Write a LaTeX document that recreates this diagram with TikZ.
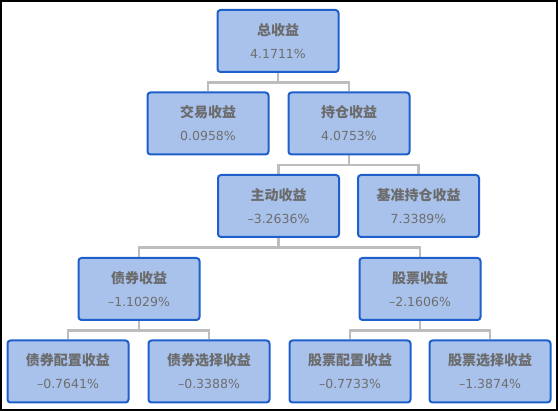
\documentclass[tikz,border=0pt]{standalone}
\usepackage{fontspec}
\setmainfont{Noto Sans CJK SC}
\newfontfamily\shuzi{DejaVu Sans}
\usetikzlibrary{backgrounds}

\definecolor{kuangtian}{HTML}{A9C2EC}
\definecolor{kuangbian}{HTML}{1F5FCB}
\definecolor{xianhui}{HTML}{BDBDBD}
\definecolor{zihui}{HTML}{6B6B6B}
\definecolor{shuzihui}{HTML}{6E6E6E}

% 数值行
\newcommand{\shuzhi}[1]{{\shuzi\mdseries\color{shuzihui}\fontsize{12.5}{23}\selectfont #1}}

\begin{document}
\begin{tikzpicture}[x=1pt, y=-1pt,
		shouyi/.style={draw=kuangbian, fill=kuangtian, line width=2pt, rounded corners=3pt,
			minimum width=121pt, minimum height=62pt, align=center, text=zihui,
			font=\bfseries\fontsize{14}{23}\selectfont},
		lianxian/.style={draw=xianhui, line width=2.5pt}]
	% 画布与外框
	\useasboundingbox (0,0) rectangle (558,411);
	\draw[line width=2pt] (1,1) rectangle (557,410);
	
	% 第一层
	\node[shouyi] (zong) at (278,41) {总收益\\\shuzhi{4.1711\%}};
	
	% 第二层
	\node[shouyi] (jiaoyi) at (208,123.5) {交易收益\\\shuzhi{0.0958\%}};
	\node[shouyi] (chicang) at (349,123.5) {持仓收益\\\shuzhi{4.0753\%}};
	
	% 第三层
	\node[shouyi] (zhudong) at (278.5,206) {主动收益\\\shuzhi{–3.2636\%}};
	\node[shouyi] (jizhun) at (418.5,206) {基准持仓收益\\\shuzhi{7.3389\%}};
	
	% 第四层
	\node[shouyi] (zhaiquan) at (139,289) {债券收益\\\shuzhi{–1.1029\%}};
	\node[shouyi] (gupiao) at (420,289) {股票收益\\\shuzhi{–2.1606\%}};
	
	% 第五层
	\node[shouyi] (zqpeizhi) at (68,371.5) {债券配置收益\\\shuzhi{–0.7641\%}};
	\node[shouyi] (zqxuanze) at (209,371.5) {债券选择收益\\\shuzhi{–0.3388\%}};
	\node[shouyi] (gppeizhi) at (350,371.5) {股票配置收益\\\shuzhi{–0.7733\%}};
	\node[shouyi] (gpxuanze) at (490,371.5) {股票选择收益\\\shuzhi{–1.3874\%}};
	
	% 连线（放在底层）
	\begin{scope}[on background layer]
		\draw[lianxian] (zong.south) -- ++(0,9.5) -| (jiaoyi.north);
		\draw[lianxian] (zong.south) -- ++(0,9.5) -| (chicang.north);
		\draw[lianxian] (chicang.south) -- ++(0,9.5) -| (zhudong.north);
		\draw[lianxian] (chicang.south) -- ++(0,9.5) -| (jizhun.north);
		\draw[lianxian] (zhudong.south) -- ++(0,9.5) -| (zhaiquan.north);
		\draw[lianxian] (zhudong.south) -- ++(0,9.5) -| (gupiao.north);
		\draw[lianxian] (zhaiquan.south) -- ++(0,9.5) -| (zqpeizhi.north);
		\draw[lianxian] (zhaiquan.south) -- ++(0,9.5) -| (zqxuanze.north);
		\draw[lianxian] (gupiao.south) -- ++(0,9.5) -| (gppeizhi.north);
		\draw[lianxian] (gupiao.south) -- ++(0,9.5) -| (gpxuanze.north);
	\end{scope}
\end{tikzpicture}
\end{document}
